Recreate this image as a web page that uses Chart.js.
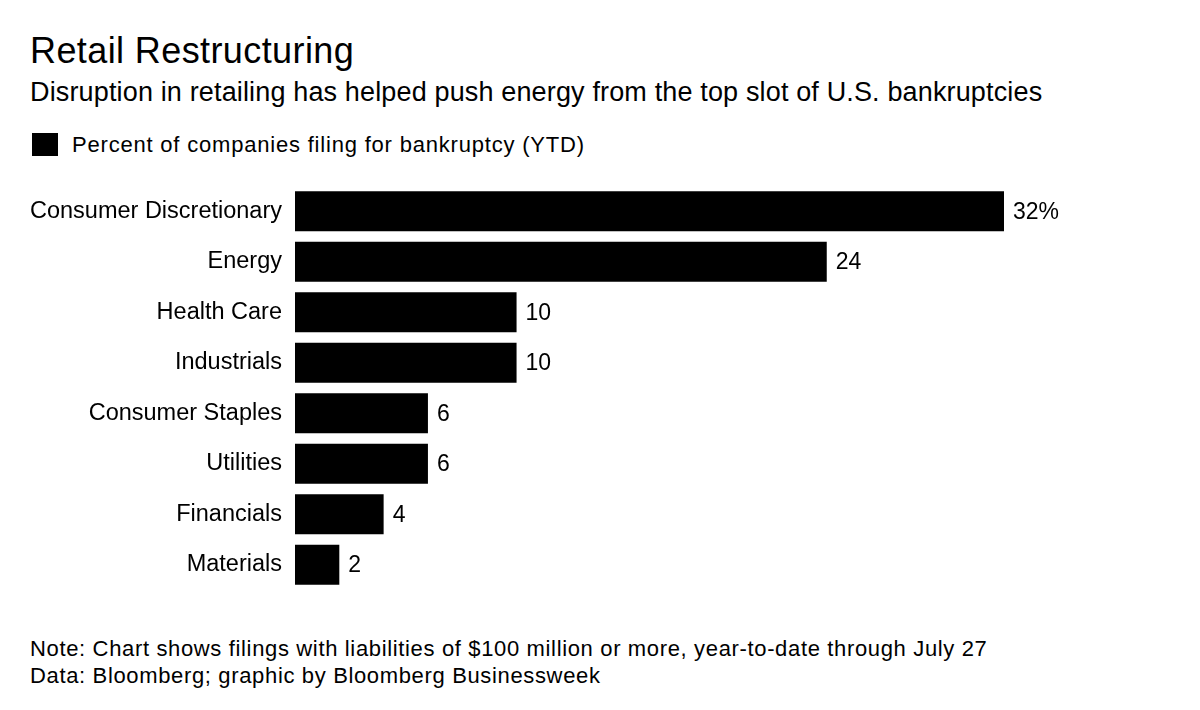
<html>
<head>
<style>
  body { margin:0; background:#fff; font-family:"Liberation Sans", Arial, sans-serif; color:#000; }
  .t { position:absolute; left:30px; white-space:nowrap; line-height:1; }
  #wrap { position:absolute; left:0; top:0; width:1200px; height:710px; }
</style>
</head>
<body>
<div class="t" style="top:33px;font-size:36px;letter-spacing:0.4px;">Retail Restructuring</div>
<div class="t" style="top:79px;font-size:27px;letter-spacing:0.15px;">Disruption in retailing has helped push energy from the top slot of U.S. bankruptcies</div>
<div style="position:absolute;left:32px;top:133px;width:26px;height:23px;background:#000;"></div>
<div class="t" style="left:72px;top:134px;font-size:22px;letter-spacing:0.8px;">Percent of companies filing for bankruptcy (YTD)</div>
<div class="t" style="top:638px;font-size:22px;letter-spacing:0.65px;">Note: Chart shows filings with liabilities of $100 million or more, year-to-date through July 27</div>
<div class="t" style="top:665px;font-size:22px;letter-spacing:0.65px;">Data: Bloomberg; graphic by Bloomberg Businessweek</div>

<div id="wrap"><canvas id="myChart" width="1200" height="710"></canvas></div>

<script src="https://cdn.jsdelivr.net/npm/chart.js"></script>
<script>
  const sectors = ['Consumer Discretionary','Energy','Health Care','Industrials','Consumer Staples','Utilities','Financials','Materials'];
  const percents = [32, 24, 10, 10, 6, 6, 4, 2];

  // value labels to the right of each bar
  const valueLabels = {
    id: 'valueLabels',
    afterDatasetsDraw(chart) {
      const ctx = chart.ctx;
      const meta = chart.getDatasetMeta(0);
      ctx.save();
      ctx.font = '23px "Liberation Sans", Arial, sans-serif';
      ctx.fillStyle = '#000';
      ctx.textBaseline = 'middle';
      ctx.textAlign = 'left';
      meta.data.forEach((bar, i) => {
        let txt = String(percents[i]) + (i === 0 ? '%' : '');
        ctx.fillText(txt, bar.x + 9, bar.y + 1);
      });
      ctx.restore();
    }
  };

  const myChart = new Chart(document.getElementById('myChart'), {
    type: 'bar',
    data: {
      labels: sectors,
      datasets: [{
        label: 'Percent of companies filing for bankruptcy (YTD)',
        data: percents,
        backgroundColor: '#000',
        borderWidth: 0,
        barPercentage: 0.79,
        categoryPercentage: 1
      }]
    },
    options: {
      indexAxis: 'y',
      responsive: false,
      animation: false,
      devicePixelRatio: 1,
      layout: { padding: { top: 186, bottom: 120, right: 196, left: 0 } },
      plugins: { legend: { display: false }, tooltip: { enabled: false } },
      scales: {
        x: { display: false, min: 0, max: 32 },
        y: {
          grid: { display: false, drawTicks: false },
          border: { display: false },
          ticks: {
            color: '#000',
            padding: 13,
            font: { family: '"Liberation Sans", Arial, sans-serif', size: 23.5 }
          },
          afterFit(scale) { scale.width = 295; }
        }
      }
    },
    plugins: [valueLabels]
  });
</script>
</body>
</html>
